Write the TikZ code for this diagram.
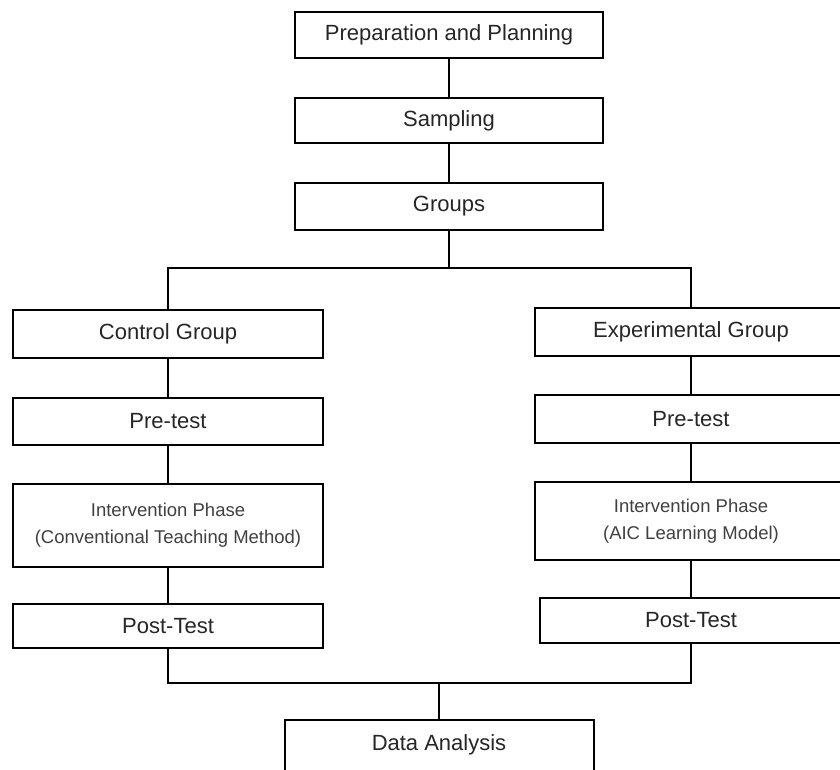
\documentclass[tikz,border=0pt]{standalone}
\usepackage{fontspec}
\setmainfont{Liberation Sans}
\begin{document}
\begin{tikzpicture}[x=1pt,y=-1pt,
	stepbox/.style={draw, line width=2pt, minimum height=46pt, inner sep=0pt,
		font=\fontsize{22}{26}\selectfont, text=black!85},
	phase/.style={font=\fontsize{18.5}{27}\selectfont, align=center, text=black!75},
	link/.style={line width=2pt}]
	    \clip (0,0) rectangle (840,769);
	    % top column
	    \node[stepbox, minimum width=308pt] (prep) at (449,35) {Preparation and Planning};
	    \node[stepbox, minimum width=308pt, minimum height=45pt] (samp) at (449,120.5) {Sampling};
	    \node[stepbox, minimum width=308pt, minimum height=47pt] (grps) at (449,206.5) {Groups};
	    % control group
	    \node[stepbox, minimum width=310pt, minimum height=48pt] (ctrl) at (168,334) {Control Group};
	    \node[stepbox, minimum width=310pt, minimum height=47pt] (lpre) at (168,421) {Pre-test};
	    \node[stepbox, phase, minimum width=310pt, minimum height=83pt] (lint) at (168,525)
	        {Intervention Phase\\(Conventional Teaching Method)};
	    \node[stepbox, minimum width=310pt, minimum height=44pt] (lpost) at (168,626) {Post-Test};
	    % experimental group
	    \node[stepbox, minimum width=312pt, minimum height=48pt] (expg) at (691,332) {Experimental Group};
	    \node[stepbox, minimum width=312pt, minimum height=48pt] (rpre) at (691,419) {Pre-test};
	    \node[stepbox, phase, minimum width=312pt, minimum height=78pt] (rint) at (691,521)
	        {Intervention Phase\\(AIC Learning Model)};
	    \node[stepbox, minimum width=302pt, minimum height=45pt] (rpost) at (691,620.5) {Post-Test};
	    % analysis
	    \node[stepbox, minimum width=309pt, anchor=north, text height=30pt, text depth=40pt] (data) at (439,719) {Data Analysis};
	    \coordinate (split) at (449,268);
	    \coordinate (join) at (439,683);
	    \draw[link] (prep) -- (samp);
	    \draw[link] (samp) -- (grps);
	    \draw[link] (grps) -- (split);
	    \draw[link] (ctrl) |- (split) -| (expg);
	    \draw[link] (ctrl) -- (lpre);
	    \draw[link] (lpre) -- (lint);
	    \draw[link] (lint) -- (lpost);
	    \draw[link] (expg) -- (rpre);
	    \draw[link] (rpre) -- (rint);
	    \draw[link] (rint) -- (rpost);
	    \draw[link] (lpost) |- (join) -| (rpost);
	    \draw[link] (join) -- (data);
	\end{tikzpicture}
\end{document}
